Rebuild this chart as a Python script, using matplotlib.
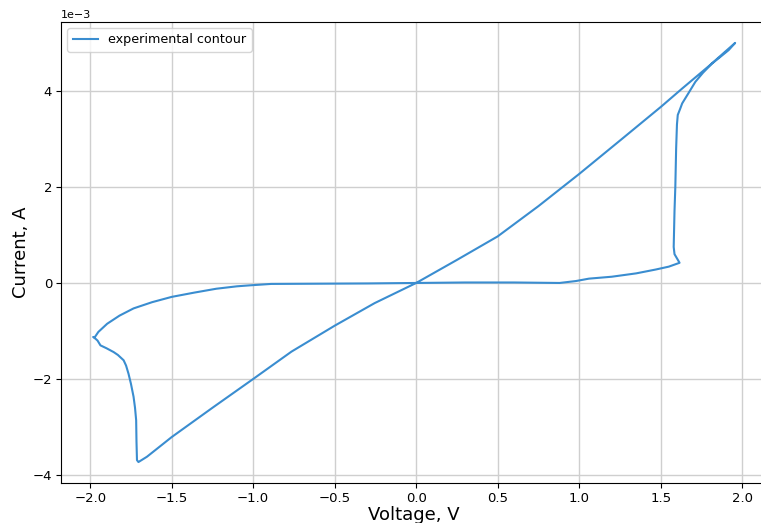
import matplotlib.pyplot as plt
import numpy as np

# measured contour, voltage in V, current in mA
voltage = [0.0, 0.3, 0.6, 0.88, 0.98, 1.06, 1.2, 1.35, 1.47, 1.55, 1.616,
           1.585, 1.58, 1.585, 1.59, 1.595, 1.60, 1.605, 1.62, 1.632, 1.67, 1.713, 1.76, 1.815, 1.87, 1.917, 1.957,
           1.9, 1.8, 1.632, 1.502, 1.266, 1.0, 0.75, 0.5, 0.25, 0.0,
           -0.255, -0.5, -0.765, -1.0, -1.25, -1.5, -1.6, -1.652, -1.685, -1.704,
           -1.713, -1.716, -1.718, -1.725, -1.734, -1.75, -1.765, -1.78, -1.795, -1.83, -1.856, -1.9, -1.937,
           -1.955, -1.968, -1.982, -1.972,
           -1.95, -1.896, -1.82, -1.734, -1.62, -1.5, -1.36, -1.226, -1.1, -1.022, -0.89, -0.6, -0.3, 0.0]
current_mA = [0.0, 0.01, 0.01, 0.0, 0.04, 0.09, 0.13, 0.2, 0.28, 0.34, 0.42,
              0.6, 0.75, 1.5, 2.0, 2.8, 3.3, 3.5, 3.63, 3.74, 3.95, 4.19, 4.38, 4.57, 4.72, 4.85, 5.0,
              4.83, 4.53, 4.05, 3.67, 3.01, 2.27, 1.6, 0.97, 0.48, 0.0,
              -0.42, -0.89, -1.43, -2.0, -2.6, -3.21, -3.48, -3.62, -3.69, -3.73,
              -3.69, -3.3, -2.86, -2.6, -2.37, -2.1, -1.89, -1.72, -1.61, -1.5, -1.44, -1.36, -1.30,
              -1.2, -1.16, -1.125, -1.13,
              -1.02, -0.85, -0.68, -0.53, -0.4, -0.29, -0.2, -0.12, -0.07, -0.05, -0.02, -0.015, -0.01, 0.0]

current = np.array(current_mA) * 1e-3

fig = plt.figure(figsize=(7.61, 5.23), dpi=100)
ax = fig.add_axes([0.0802, 0.0765, 0.928, 0.8815])

ax.plot(voltage, current, color='#3a8dd0', linewidth=1.5, label='experimental contour')
ax.grid(True, color='#cfcfcf', linewidth=1)
ax.set_xlabel('Voltage, V', fontsize=13, labelpad=1)
ax.set_ylabel('Current, A', fontsize=13, labelpad=2)
ax.ticklabel_format(axis='y', style='sci', scilimits=(0, 0))
ax.tick_params(labelsize=9.5, pad=3)
ax.yaxis.get_offset_text().set_fontsize(8)
ax.legend(loc='upper left', fontsize=9.2)

fig.savefig('out.png', dpi=100)
